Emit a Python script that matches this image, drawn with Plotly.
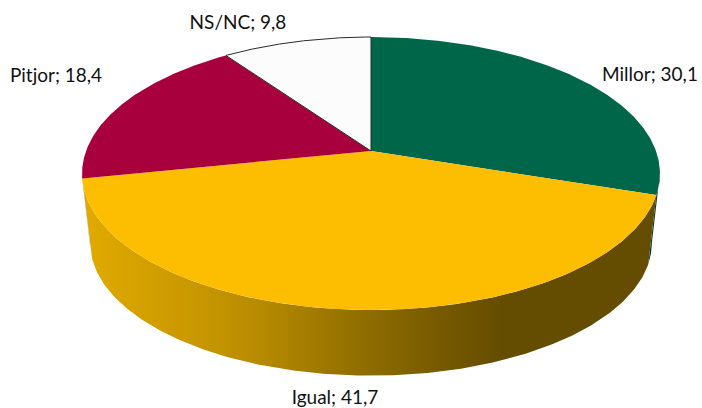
import numpy as np
import plotly.graph_objects as go

categories = ["Millor", "Igual", "Pitjor", "NS/NC"]
values = [30.1, 41.7, 18.4, 9.8]

top_colors = ["#00664A", "#FDBD00", "#A8003C", "#FCFCFC"]
side_colors = ["#0B3B2C", "#644C00", "#C9A0A8", "#FCFCFC"]
label_x = [650, 335, 56, 238]
label_y = [76, 399, 77, 24]

CX, CY, A, B, K = 371.0, 151.0, 285.0, 132.8, 0.165
DEPTH, SHRINK = 70.0, 0.972


def project(theta, scale=1.0, dz=0.0):
    px, py = np.sin(theta), np.cos(theta)
    w = 1 + K * py
    return CX + scale * A * px / w, CY + dz - scale * B * py / w


fractions = np.cumsum([0] + values) / sum(values)
angles = fractions * 2 * np.pi
silhouette_r = np.arccos(-K)
silhouette_l = 2 * np.pi - silhouette_r

fig = go.Figure()

gradient = [
    [0.00, "#E0AA00"], [0.20, "#C89700"], [0.30, "#B88B00"], [0.47, "#937000"],
    [0.65, "#725600"], [0.74, "#644C00"], [1.00, "#644C00"],
]

for i in range(len(values)):
    lo = max(angles[i], silhouette_r)
    hi = min(angles[i + 1], silhouette_l)
    if hi <= lo:
        continue
    th = np.linspace(lo, hi, 200)
    x1, y1 = project(th)
    x2, y2 = project(th[::-1], SHRINK, DEPTH)
    x = np.r_[x1, x2, x1[:1]]
    y = np.r_[y1, y2, y1[:1]]
    kw = dict(fillcolor=side_colors[i])
    if i == 1:
        kw = dict(fillgradient=dict(type="horizontal", colorscale=gradient, start=85, stop=655))
    fig.add_trace(go.Scatter(x=x, y=y, mode="lines", fill="toself", line=dict(width=0), hoverinfo="skip", **kw))

for i in range(len(values)):
    th = np.linspace(angles[i], angles[i + 1], 300)
    x, y = project(th)
    x = np.r_[CX, x, CX]
    y = np.r_[CY, y, CY]
    outlined = categories[i] == "NS/NC"
    fig.add_trace(go.Scatter(
        x=x, y=y, mode="lines", fill="toself", fillcolor=top_colors[i],
        line=dict(width=1 if outlined else 0, color="#2A2A2A"), hoverinfo="skip",
    ))

labels = [f"{c}; {str(v).replace('.', ',')}" for c, v in zip(categories, values)]
fig.add_trace(go.Scatter(
    x=label_x, y=label_y, mode="text", text=labels, textposition="middle center",
    textfont=dict(family="Lato", size=19, color="#111111"), hoverinfo="skip",
))

fig.update_layout(
    width=702, height=408, margin=dict(l=0, r=0, t=0, b=0),
    paper_bgcolor="white", plot_bgcolor="white", showlegend=False,
    xaxis=dict(range=[0, 702], visible=False, fixedrange=True),
    yaxis=dict(range=[408, 0], visible=False, fixedrange=True),
)
fig.write_html(
    "out.html",
    config={"displayModeBar": False},
    post_script="document.body.style.margin='0';document.documentElement.style.overflow='hidden';",
)
